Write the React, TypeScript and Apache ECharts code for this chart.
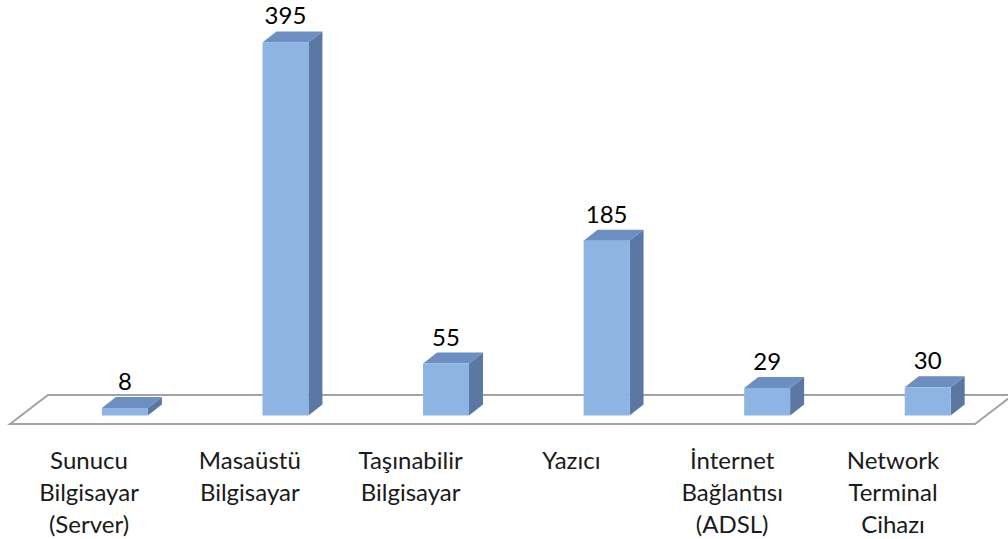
import React, { useEffect, useRef } from "react";
import * as echarts from "echarts";

const categories = [
  "Sunucu\nBilgisayar\n(Server)",
  "Masaüstü\nBilgisayar",
  "Taşınabilir\nBilgisayar",
  "Yazıcı",
  "İnternet\nBağlantısı\n(ADSL)",
  "Network\nTerminal\nCihazı",
];
const values = [8, 395, 55, 185, 29, 30];

const FRONT = "#8DB4E3";
const TOP = "#6D8EC0";
const SIDE = "#5A78A3";

export default function App() {
  const ref = useRef<HTMLDivElement>(null);
  useEffect(() => {
    if (!ref.current) return;
    const chart = echarts.init(ref.current, undefined, { renderer: "svg" });
    const dx = 14;
    const dy = -11;
    chart.setOption({
      animation: false,
      backgroundColor: "#ffffff",
      grid: [
        { left: 44.6, width: 964.8, top: 0, bottom: 123.5 },
        { left: 8.6, width: 964.8, top: 0, bottom: 123.5 },
      ],
      xAxis: [
        {
          type: "category",
          gridIndex: 0,
          data: categories,
          axisLine: { show: false },
          axisTick: { show: false },
          axisLabel: { show: false },
        },
        {
          type: "category",
          gridIndex: 1,
          data: categories,
          axisLine: { show: false },
          axisTick: { show: false },
          axisLabel: {
            show: true,
            interval: 0,
            margin: 28.5,
            color: "#1a1a1a",
            fontFamily: "Lato",
            fontSize: 24,
            lineHeight: 31.7,
            align: "center",
          },
        },
      ],
      yAxis: [
        { type: "value", gridIndex: 0, min: 0, max: 440, show: false },
        { type: "value", gridIndex: 1, min: 0, max: 440, show: false },
      ],
      graphic: [
        {
          type: "polygon",
          z: 0,
          shape: {
            points: [
              [48, 395],
              [1013, 395],
              [975, 424],
              [10, 424],
            ],
          },
          style: { fill: "#ffffff", stroke: "#a3a3a3", lineWidth: 2 },
        },
      ],
      series: [
        {
          type: "custom",
          xAxisIndex: 0,
          yAxisIndex: 0,
          z: 10,
          data: values.map((v, i) => [i, v]),
          encode: { x: 0, y: 1 },
          renderItem: (params: any, api: any) => {
            const idx = api.value(0);
            const val = api.value(1);
            const base = api.coord([idx, 0]);
            const top = api.coord([idx, val]);
            const bw = api.size([1, 0])[0] * 0.286;
            const x0 = base[0] - bw / 2;
            const x1 = base[0] + bw / 2;
            const yB = base[1];
            const yT = top[1];
            return {
              type: "group",
              children: [
                {
                  type: "polygon",
                  shape: {
                    points: [
                      [x1, yT],
                      [x1 + dx, yT + dy],
                      [x1 + dx, yB + dy],
                      [x1, yB],
                    ],
                  },
                  style: { fill: SIDE },
                },
                {
                  type: "polygon",
                  shape: {
                    points: [
                      [x0, yT],
                      [x0 + dx, yT + dy],
                      [x1 + dx, yT + dy],
                      [x1, yT],
                    ],
                  },
                  style: { fill: TOP },
                },
                {
                  type: "rect",
                  shape: { x: x0, y: yT, width: bw, height: yB - yT },
                  style: { fill: FRONT },
                },
                {
                  type: "text",
                  x: base[0],
                  y: yT - 27.5,
                  style: {
                    text: String(val),
                    fill: "#000000",
                    font: "24px Lato",
                    align: "center",
                    verticalAlign: "middle",
                  },
                },
              ],
            };
          },
        },
      ],
    });
    return () => chart.dispose();
  }, []);
  return <div ref={ref} style={{ width: 1008, height: 539, position: "absolute", left: 0, top: 0 }} />;
}
